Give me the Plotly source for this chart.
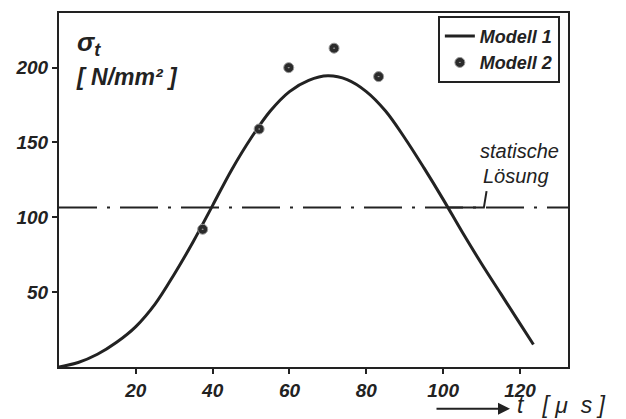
import plotly.graph_objects as go

# Modell 1 – computed curve
t_model1 = [0, 5, 10, 15, 20, 25, 30, 35, 40, 45, 50, 55, 60, 65, 70, 75, 80, 85,
            90, 95, 100, 105, 110, 115, 120, 123.5]
sigma_model1 = [0, 3, 8.5, 16.5, 27, 42, 62, 84, 108, 132, 153, 171, 184, 191.5, 194.5,
                192, 184, 171, 153, 133, 112, 90, 69, 49, 29, 15]

# Modell 2 – points
t_model2 = [37.4, 52.1, 59.8, 71.6, 83.2]
sigma_model2 = [92, 159, 200, 213, 194]

# static solution
sigma_static = 106.5
x_ticks = [20, 40, 60, 80, 100, 120]
y_ticks = [50, 100, 150, 200]

INK = "#222222"
FONT = "Liberation Sans"

fig = go.Figure()
fig.add_trace(go.Scatter(
    x=t_model1, y=sigma_model1, mode="lines", name="Modell 1",
    line=dict(color=INK, width=3, shape="spline", smoothing=1.0),
))
fig.add_trace(go.Scatter(
    x=t_model2, y=sigma_model2, mode="markers", name="Modell 2",
    marker=dict(symbol="circle-dot", size=10, color="#2b2b2b",
                line=dict(color="#9a9a9a", width=1)),
))

# static solution line
fig.add_shape(type="line", xref="paper", x0=0, x1=1, yref="y",
              y0=sigma_static, y1=sigma_static,
              line=dict(color=INK, width=2, dash="38px,10px,3px,10px"))
# leader from label to line
fig.add_shape(type="path", xref="x", yref="y",
              path=f"M 101,{sigma_static} L 110.6,{sigma_static} L 111.3,117.5",
              line=dict(color=INK, width=2))

fig.add_annotation(x=0.905, y=0.61, xref="paper", yref="paper", showarrow=False,
                   text="statische", font=dict(family=FONT, size=20, color=INK, style="italic"),
                   xanchor="center", yanchor="middle")
fig.add_annotation(x=0.897, y=0.54, xref="paper", yref="paper", showarrow=False,
                   text="Lösung", font=dict(family=FONT, size=20, color=INK, style="italic"),
                   xanchor="center", yanchor="middle")

# y-axis title
fig.add_annotation(x=0.032, y=0.915, xref="paper", yref="paper", showarrow=False,
                   text="σ<sub>t</sub>",
                   font=dict(family=FONT, size=26, color=INK, style="italic", weight="bold"),
                   xanchor="left", yanchor="middle")
fig.add_annotation(x=0.03, y=0.82, xref="paper", yref="paper", showarrow=False,
                   text="[ N/mm² ]",
                   font=dict(family=FONT, size=23, color=INK, style="italic", weight="bold"),
                   xanchor="left", yanchor="middle")

# x-axis title with arrow
fig.add_annotation(x=(510 - 59) / 509, y=-(409 - 367) / 356, xref="paper", yref="paper",
                   ax=-75, ay=0, axref="pixel", ayref="pixel",
                   showarrow=True, arrowhead=2, arrowsize=1.2, arrowwidth=2, arrowcolor=INK, text="")
fig.add_annotation(x=(515 - 59) / 509, y=-(405 - 367) / 356, xref="paper", yref="paper",
                   showarrow=False, text="t   [ μ  s ]",
                   font=dict(family=FONT, size=23, color=INK, style="italic"),
                   xanchor="left", yanchor="middle")

tickfont = dict(family=FONT, size=19, color=INK, style="italic", weight="bold")
fig.update_xaxes(range=[0, 132.5], tickvals=x_ticks, ticktext=[str(v) for v in x_ticks],
                 showgrid=False, zeroline=False, showline=True, linecolor=INK, linewidth=2,
                 mirror=True, ticks="outside", ticklen=5, tickwidth=2, tickcolor=INK,
                 tickfont=tickfont)
fig.update_yaxes(range=[0, 236.5], tickvals=y_ticks, ticktext=[str(v) for v in y_ticks],
                 showgrid=False, zeroline=False, showline=True, linecolor=INK, linewidth=2,
                 mirror=True, ticks="outside", ticklen=5, tickwidth=2, tickcolor=INK,
                 tickfont=tickfont)

fig.update_layout(
    width=626, height=419,
    margin=dict(l=59, r=58, t=11, b=52),
    paper_bgcolor="white", plot_bgcolor="white",
    showlegend=True,
    legend=dict(x=0.984, y=0.992, xanchor="right", yanchor="top",
                bgcolor="white", bordercolor=INK, borderwidth=2,
                font=dict(family=FONT, size=18, color=INK, style="italic", weight="bold"),
                itemwidth=30, tracegroupgap=0),
)

fig.write_html("out.html", config={"displayModeBar": False},
               post_script="document.body.style.margin='0';document.body.style.overflow='hidden';")
